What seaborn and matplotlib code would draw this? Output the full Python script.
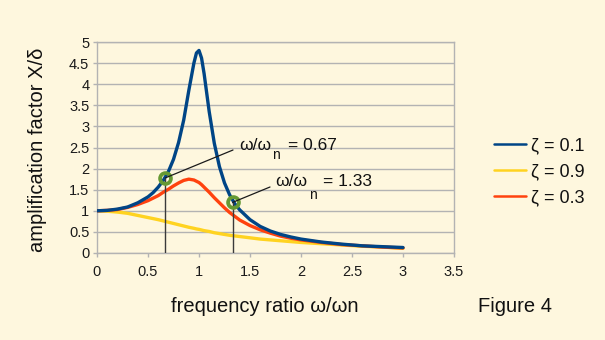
import matplotlib
matplotlib.use("Agg")
import matplotlib.pyplot as plt
import seaborn as sns

plt.rcParams["font.family"] = ["Liberation Sans", "DejaVu Sans"]

# Frequency ratio samples (denser around resonance)
ratio = [0, 0.1, 0.2, 0.3, 0.4, 0.5, 0.55, 0.6, 0.65, 0.7, 0.75, 0.8, 0.85,
         0.9, 0.95, 0.975, 1.0, 1.025, 1.05, 1.1, 1.15, 1.2, 1.25, 1.3, 1.35,
         1.4, 1.5, 1.6, 1.7, 1.8, 1.9, 2.0, 2.2, 2.4, 2.6, 2.8, 3.0]

# Amplification factor X/delta for each damping ratio
amp_zeta_01 = [1.00, 1.01, 1.04, 1.09, 1.19, 1.33, 1.43, 1.56, 1.72, 1.93,
               2.22, 2.62, 3.15, 3.85, 4.50, 4.74, 4.80, 4.62, 4.25, 3.35,
               2.60, 2.05, 1.66, 1.38, 1.17, 1.02, 0.79, 0.63, 0.52, 0.44,
               0.38, 0.33, 0.26, 0.21, 0.17, 0.15, 0.13]
amp_zeta_09 = [1.00, 0.99, 0.97, 0.94, 0.89, 0.84, 0.815, 0.79, 0.76, 0.73,
               0.70, 0.67, 0.64, 0.61, 0.585, 0.57, 0.56, 0.545, 0.53, 0.51,
               0.48, 0.46, 0.44, 0.42, 0.405, 0.39, 0.36, 0.33, 0.31, 0.29,
               0.27, 0.25, 0.22, 0.19, 0.16, 0.14, 0.11]
amp_zeta_03 = [1.00, 1.01, 1.03, 1.08, 1.15, 1.24, 1.30, 1.36, 1.44, 1.51,
               1.59, 1.66, 1.72, 1.75, 1.73, 1.70, 1.67, 1.62, 1.56, 1.44,
               1.31, 1.19, 1.07, 0.96, 0.87, 0.78, 0.65, 0.55, 0.47, 0.40,
               0.35, 0.31, 0.25, 0.20, 0.17, 0.14, 0.12]

series_labels = ["ζ = 0.1", "ζ = 0.9", "ζ = 0.3"]

# Marked operating points
mark_ratio = [0.67, 1.33]
mark_amp = [1.78, 1.20]
mark_text = ["0.67", "1.33"]

BG = "#fef7de"
GRID = "#b3b3b3"
C_BLUE = "#004586"
C_YELLOW = "#ffd320"
C_RED = "#ff420e"
C_GREEN = "#669933"

fig = plt.figure(figsize=(6.05, 3.4), dpi=100, facecolor=BG)
ax = fig.add_axes([97 / 605, 87 / 340, 357 / 605, 211 / 340])
ax.set_facecolor(BG)

curves = {
    "ζ = 0.1": (amp_zeta_01, C_BLUE, 4),
    "ζ = 0.9": (amp_zeta_09, C_YELLOW, 2),
    "ζ = 0.3": (amp_zeta_03, C_RED, 3),
}
for label in ["ζ = 0.9", "ζ = 0.3", "ζ = 0.1"]:
    vals, color, z = curves[label]
    sns.lineplot(x=ratio, y=vals, color=color, linewidth=2.4, ax=ax,
                 label=label, zorder=z, sort=False,
                 solid_joinstyle="round", solid_capstyle="round")

ax.set_xlim(0, 3.5)
ax.set_ylim(0, 5)
xt = [i * 0.5 for i in range(8)]
yt = [i * 0.5 for i in range(11)]
ax.set_xticks(xt)
ax.set_yticks(yt)
fmt = lambda v: ("%g" % v)
ax.set_xticklabels([fmt(v) for v in xt])
ax.set_yticklabels([fmt(v) for v in yt])

ax.yaxis.grid(True, color=GRID, linewidth=1)
ax.set_axisbelow(True)
for sp in ax.spines.values():
    sp.set_color(GRID)
    sp.set_linewidth(1)
ax.tick_params(axis="both", color=GRID, width=1, length=3, labelsize=10.5,
               labelcolor="#1a1a1a")
ax.tick_params(axis="x", pad=5.5)
ax.tick_params(axis="y", pad=2.5)

# Operating points: drop lines, rings and leader lines
ax.vlines(mark_ratio, 0, mark_amp, color="#3a3a3a", linewidth=1, zorder=5)
ax.plot(mark_ratio, mark_amp, linestyle="none", marker="o", ms=7.8,
        mfc="none", mec=C_GREEN, mew=2.7, zorder=6)

leader_ends = [(233, 150), (270, 187)]
text_pos = [(239, 150, 272, 159, 288), (275, 186, 309, 199, 323)]
for (xr, ya, val, (ex, ey), (tx, ty, nx, ny, qx)) in zip(
        mark_ratio, mark_amp, mark_text, leader_ends, text_pos):
    ax.annotate("", xy=(xr, ya), xycoords="data",
                xytext=(ex, 340 - ey), textcoords="figure pixels",
                arrowprops=dict(arrowstyle="-", color="#1a1a1a", lw=0.9,
                                shrinkA=0, shrinkB=0), zorder=7)
    fig.text(tx / 605, 1 - ty / 340, "ω/ω", fontsize=12.5, va="baseline",
             ha="left", color="#111")
    fig.text(nx / 605, 1 - ny / 340, "n", fontsize=10, va="baseline",
             ha="left", color="#111")
    fig.text(qx / 605, 1 - ty / 340, "= " + val, fontsize=12.5, va="baseline",
             ha="left", color="#111")

ax.set_xlabel("frequency ratio ω/ωn", fontsize=14.5, color="#111")
ax.xaxis.label.set_va("center")
ax.xaxis.set_label_coords((265 - 97) / 357, (253 - 307) / 211)
ax.set_ylabel("amplification factor X/δ", fontsize=14.5, color="#111")
ax.yaxis.label.set_va("center")
ax.yaxis.set_label_coords((38 - 97) / 357, (253 - 150) / 211)

handles, labels = ax.get_legend_handles_labels()
order = [labels.index(l) for l in series_labels]
leg = ax.legend([handles[i] for i in order], [labels[i] for i in order],
                loc="upper left", bbox_to_anchor=(494 / 605, 1 - 137 / 340),
                bbox_transform=fig.transFigure, frameon=False, fontsize=13,
                handlelength=1.75, handletextpad=0.3, labelspacing=0.5,
                borderpad=0, borderaxespad=0)
for line in leg.get_lines():
    line.set_linewidth(1.8)
for t in leg.get_texts():
    t.set_color("#111")

fig.text(515 / 605, 1 - 307 / 340, "Figure 4", fontsize=14.5, ha="center",
         va="center", color="#111")

fig.savefig("out.png", dpi=100, facecolor=BG)
